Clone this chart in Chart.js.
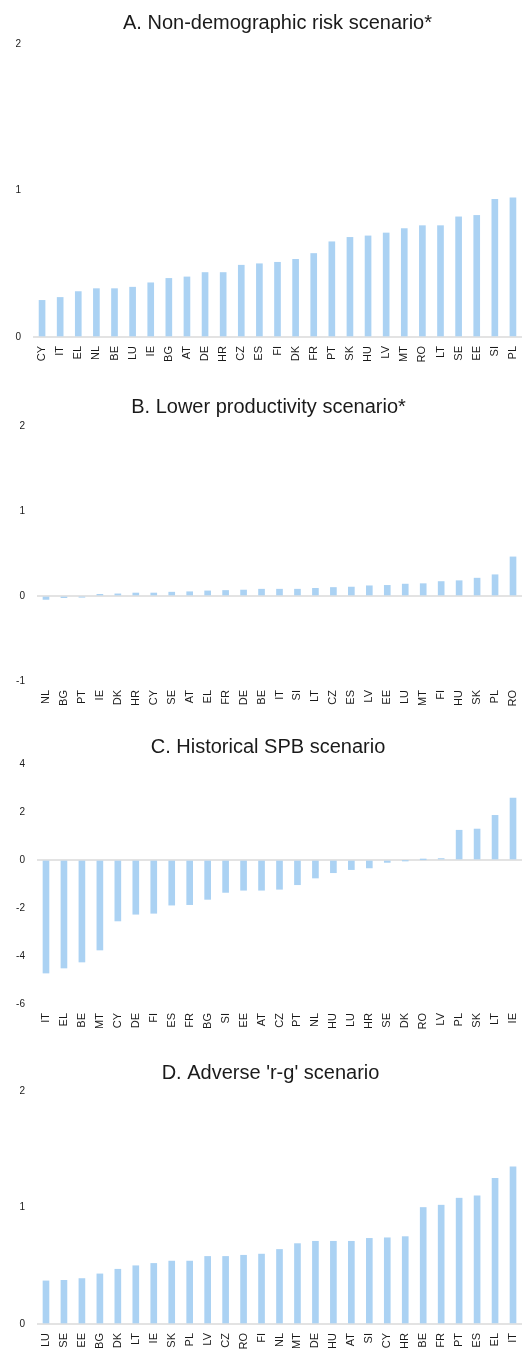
<!DOCTYPE html>
<html>
<head>
<meta charset="utf-8">
<script src="https://cdn.jsdelivr.net/npm/chart.js@4"></script>
<style>
  html, body { margin: 0; padding: 0; background: #fff; overflow: hidden; }
  .panel { position: absolute; left: 0; width: 524px; }
  #panel-a { top: 0; height: 372px; }
  #panel-b { top: 380px; height: 331px; }
  #panel-c { top: 715px; height: 319px; }
  #panel-d { top: 1036px; height: 317px; }
</style>
</head>
<body>
<div class="panel" id="panel-a"><canvas id="chart-a"></canvas></div>
<div class="panel" id="panel-b"><canvas id="chart-b"></canvas></div>
<div class="panel" id="panel-c"><canvas id="chart-c"></canvas></div>
<div class="panel" id="panel-d"><canvas id="chart-d"></canvas></div>
<script>
// ======================================================= data

let nonDemoCountries = ["CY", "IT", "EL", "NL", "BE", "LU", "IE", "BG", "AT", "DE", "HR", "CZ", "ES", "FI", "DK", "FR", "PT", "SK", "HU", "LV", "MT", "RO", "LT", "SE", "EE", "SI", "PL"];
let nonDemoValues = [0.25, 0.27, 0.31, 0.33, 0.33, 0.34, 0.37, 0.40, 0.41, 0.44, 0.44, 0.49, 0.50, 0.51, 0.53, 0.57, 0.65, 0.68, 0.69, 0.71, 0.74, 0.76, 0.76, 0.82, 0.83, 0.94, 0.95];

let productivityCountries = ["NL", "BG", "PT", "IE", "DK", "HR", "CY", "SE", "AT", "EL", "FR", "DE", "BE", "IT", "SI", "LT", "CZ", "ES", "LV", "EE", "LU", "MT", "FI", "HU", "SK", "PL", "RO"];
let productivityValues = [-0.04, -0.02, -0.015, 0.02, 0.025, 0.035, 0.035, 0.045, 0.05, 0.06, 0.065, 0.07, 0.08, 0.08, 0.08, 0.09, 0.10, 0.105, 0.12, 0.125, 0.14, 0.145, 0.17, 0.18, 0.21, 0.25, 0.46];

let spbCountries = ["IT", "EL", "BE", "MT", "CY", "DE", "FI", "ES", "FR", "BG", "SI", "EE", "AT", "CZ", "PT", "NL", "HU", "LU", "HR", "SE", "DK", "RO", "LV", "PL", "SK", "LT", "IE"];
let spbValues = [-4.71, -4.5, -4.25, -3.75, -2.54, -2.26, -2.22, -1.88, -1.86, -1.64, -1.35, -1.26, -1.26, -1.22, -1.03, -0.75, -0.53, -0.40, -0.33, -0.10, -0.02, 0.01, 0.06, 1.24, 1.29, 1.86, 2.58];

let rgCountries = ["LU", "SE", "EE", "BG", "DK", "LT", "IE", "SK", "PL", "LV", "CZ", "RO", "FI", "NL", "MT", "DE", "HU", "AT", "SI", "CY", "HR", "BE", "FR", "PT", "ES", "EL", "IT"];
let rgValues = [0.37, 0.375, 0.39, 0.43, 0.47, 0.50, 0.52, 0.54, 0.54, 0.58, 0.58, 0.59, 0.60, 0.64, 0.69, 0.71, 0.71, 0.71, 0.735, 0.74, 0.75, 1.0, 1.02, 1.08, 1.10, 1.25, 1.35];

// ======================================================= shared bar chart setup

let barColor = '#abd2f3';
let textColor = '#1a1a1a';
let fontFamily = "'Liberation Sans', Arial, sans-serif";

// box = left padding, axis sizes and title spacing for one panel
function makeBarChart(id, title, labels, values, yMin, yMax, yStep, box) {
  return new Chart(document.getElementById(id), {
    type: 'bar',
    data: {
      labels: labels,
      datasets: [{
        data: values,
        backgroundColor: barColor,
        borderWidth: 0,
        barThickness: 6
      }]
    },
    options: {
      responsive: true,
      maintainAspectRatio: false,
      animation: false,
      layout: {
        padding: { left: box.padLeft, right: 2, top: 0, bottom: 0 }
      },
      plugins: {
        legend: { display: false },
        tooltip: { enabled: false },
        title: {
          display: true,
          text: title,
          fullSize: box.fullTitle,
          color: textColor,
          font: { family: fontFamily, size: 20, weight: 'normal' },
          padding: { top: box.titleTop, bottom: box.titleBottom }
        }
      },
      scales: {
        x: {
          grid: { display: false, drawTicks: false },
          border: { display: false },
          ticks: {
            autoSkip: false,
            minRotation: 90,
            maxRotation: 90,
            padding: 9,
            color: textColor,
            font: { family: fontFamily, size: 11 }
          },
          // fixed height, and no side padding for the rotated labels
          afterFit: function (scale) {
            scale.height = box.xHeight;
            scale.paddingLeft = 0;
            scale.paddingRight = 0;
          }
        },
        y: {
          min: yMin,
          max: yMax,
          border: { display: false },
          // only the zero line is drawn
          grid: {
            drawTicks: false,
            lineWidth: 2,
            color: function (ctx) { return ctx.tick && ctx.tick.value === 0 ? '#e3e3e3' : 'rgba(0,0,0,0)'; }
          },
          ticks: {
            stepSize: yStep,
            padding: 12,
            color: textColor,
            font: { family: fontFamily, size: 10 }
          },
          afterFit: function (scale) { scale.width = box.yWidth; }
        }
      }
    }
  });
}

// ======================================================= A. non-demographic risk
let chartA = makeBarChart('chart-a', 'A. Non-demographic risk scenario*', nonDemoCountries, nonDemoValues, 0, 2, 1,
  { padLeft: 0, yWidth: 33, xHeight: 35, titleTop: 11, titleBottom: 9, fullTitle: false });

// ======================================================= B. lower productivity
let chartB = makeBarChart('chart-b', 'B. Lower productivity scenario*', productivityCountries, productivityValues, -1, 2, 1,
  { padLeft: 15, yWidth: 22, xHeight: 30, titleTop: 15, titleBottom: 7, fullTitle: true });

// ======================================================= C. historical SPB
let chartC = makeBarChart('chart-c', 'C. Historical SPB scenario', spbCountries, spbValues, -6, 4, 2,
  { padLeft: 14, yWidth: 23, xHeight: 30, titleTop: 20, titleBottom: 5, fullTitle: true });

// ======================================================= D. adverse r-g
let chartD = makeBarChart('chart-d', "D. Adverse 'r-g' scenario", rgCountries, rgValues, 0, 2, 1,
  { padLeft: 19, yWidth: 18, xHeight: 29, titleTop: 25, titleBottom: 6, fullTitle: true });
</script>
</body>
</html>
